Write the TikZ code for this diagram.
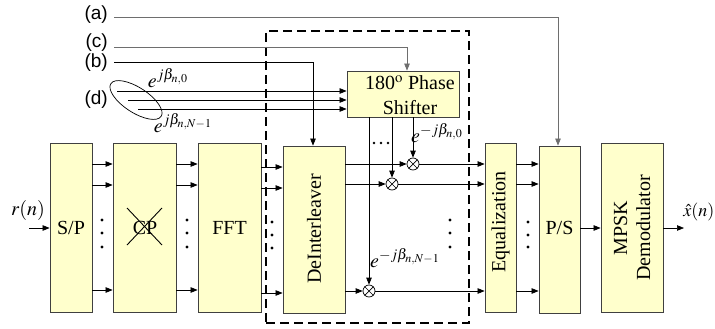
\documentclass[tikz,border=0pt]{standalone}
\usepackage{mathptmx}
\usepackage{fontspec}
\setmainfont{Liberation Serif}
\newfontfamily\labelfont{Liberation Sans}
\usetikzlibrary{arrows.meta}
\definecolor{boxfill}{HTML}{FFFFCC}
\definecolor{boxline}{HTML}{404040}
\definecolor{grayline}{HTML}{6E6E6E}
\begin{document}
\begin{tikzpicture}[x=1pt,y=-1pt,
  blk/.style={draw=boxline, fill=boxfill, line width=0.8pt, inner sep=0pt},
  arr/.style={-{Triangle[length=7pt,width=5.5pt]}, line width=0.7pt},
  ln/.style={line width=0.7pt},
  txt/.style={font=\fontsize{20}{23}\selectfont, inner sep=0pt},
  mth/.style={font=\fontsize{20}{23}\selectfont, inner sep=0pt},
  lab/.style={font=\labelfont\fontsize{19}{22}\selectfont, inner sep=0pt},
  mul/.style={draw, circle, minimum size=12pt, inner sep=0pt, fill=white, line width=0.7pt},
  dot/.style={circle, fill, inner sep=0pt, minimum size=3.2pt},
  sdot/.style={circle, fill, inner sep=0pt, minimum size=2.6pt},
  grp/.style={draw, line width=1.5pt, dash pattern=on 9pt off 5pt, inner sep=0pt}]
\useasboundingbox (0,0) rectangle (715,329);

% dashed group
\node[grp, minimum width=203pt, minimum height=292pt] (group) at (367.5,177) {};

% blocks
\node[blk, minimum width=42pt, minimum height=169pt] (sp) at (71,227.5) {};
\node[blk, minimum width=63pt, minimum height=169pt] (cp) at (144.5,227.5) {};
\node[blk, minimum width=63pt, minimum height=169pt] (fft) at (229.5,227.5) {};
\node[blk, minimum width=62pt, minimum height=167pt] (deint) at (314,229.5) {};
\node[blk, minimum width=112pt, minimum height=46pt] (phase) at (403,94) {};
\node[blk, minimum width=31pt, minimum height=169pt] (eq) at (500.5,227.5) {};
\node[blk, minimum width=41pt, minimum height=167pt] (ps) at (559.5,229.5) {};
\node[blk, minimum width=62pt, minimum height=169pt] (mpsk) at (632,227.5) {};

% block texts
\node[txt] (tsp) at (71,228) {S/P};
\node[txt] (tcp) at (145,228) {CP};
\node[txt] (tfft) at (229.5,228) {FFT};
\node[txt, rotate=90] (tdeint) at (314,229) {DeInterleaver};
\node[txt, align=center, font=\fontsize{20}{25}\selectfont] (tphase) at (410,95) {180$^{\mathrm{o}}$ Phase\\Shifter};
\node[txt, rotate=90] (teq) at (500.5,222) {Equalization};
\node[txt] (tps) at (559.5,228) {P/S};
\node[txt, rotate=90, align=center, font=\fontsize{20}{23}\selectfont] (tmpsk) at (632,228) {MPSK\\Demodulator};

% CP crossed out
\draw[line width=0.9pt] (127,208) -- (162,245) (162,208) -- (127,245);

% control labels
\node[lab, anchor=east] (la) at (108,15) {(a)};
\node[lab, anchor=east] (lc) at (108,43) {(c)};
\node[lab, anchor=east] (lb) at (108,63) {(b)};
\node[lab, anchor=east] (ld) at (108,100) {(d)};

\coordinate (aS) at (114,17);
\coordinate (cS) at (114,47);
\coordinate (bS) at (114,62);
\draw[arr, grayline] (aS) -| ([xshift=-1.5pt]ps.north);
\draw[arr, grayline] (cS) -| ([xshift=4pt]phase.north);
\draw[arr] (bS) -| ([xshift=-1pt]deint.north);

% (d) inputs
\draw[ln, rotate around={-33:(136,100)}] (136,100) ellipse [x radius=30pt, y radius=12.5pt];
\coordinate (d1) at (117,91);
\coordinate (d2) at (128,100);
\coordinate (d3) at (138,109);
\draw[arr] (d1) -- (d1 -| phase.west);
\draw[arr] (d2) -- (d2 -| phase.west);
\draw[arr] (d3) -- (d3 -| phase.west);
\node[mth] (e1) at (168,78) {$e^{j\beta_{n,0}}$};
\node[mth] (e2) at (183,123) {$e^{j\beta_{n,N-1}}$};

% r(n) input
\node[mth] (rn) at (28,210) {$r(n)$};
\coordinate (rin) at (29,228);
\draw[arr] (rin) -- (rin -| sp.west);

% S/P -> CP, CP -> FFT
\foreach \yy in {164,185,290}{
  \draw[arr] (sp.east |- {(0,\yy)}) -- (cp.west |- {(0,\yy)});
  \draw[arr] (cp.east |- {(0,\yy)}) -- (fft.west |- {(0,\yy)});
}
% FFT -> DeInterleaver
\foreach \yy in {167,188,293}{
  \draw[arr] (fft.east |- {(0,\yy)}) -- (deint.west |- {(0,\yy)});
}

% multipliers
\node[mul] (m1) at (413,164) {};
\node[mul] (m2) at (392,184) {};
\node[mul] (m3) at (369,291) {};
\foreach \m in {m1,m2,m3}{
  \draw[ln] (\m.45) -- (\m.225) (\m.135) -- (\m.315);
  \draw[arr] (deint.east |- \m) -- (\m.west);
  \draw[arr] (phase.south -| \m) -- (\m.north);
  \draw[arr] (\m.east) -- (\m -| eq.west);
  \draw[arr] (eq.east |- \m) -- (ps.west |- \m);
}
\node[mth] (e3) at (437,133) {$e^{-j\beta_{n,0}}$};
\node[mth] (e4) at (405,258) {$e^{-j\beta_{n,N-1}}$};

% small dots between phase lines
\node[sdot] (s1) at (374,143) {};
\node[sdot] (s2) at (381,143) {};
\node[sdot] (s3) at (388,143) {};

% vertical dots
\foreach \xx/\ya/\yb/\yc in {102/220/233/247, 187/220/233/247, 272/222/235/248, 450/220/233/247, 528/222/235/247}{
  \node[dot] at (\xx,\ya) {};
  \node[dot] at (\xx,\yb) {};
  \node[dot] at (\xx,\yc) {};
}

% P/S -> MPSK -> output
\coordinate (pm) at (0,228);
\draw[arr] (ps.east |- pm) -- (mpsk.west |- pm);
\coordinate (xo) at (684,228);
\draw[arr] (mpsk.east |- pm) -- (xo);
\node[mth, anchor=east, font=\fontsize{18}{21}\selectfont] (xh) at (714.5,212) {$\hat{x}(n)$};
\end{tikzpicture}
\end{document}
